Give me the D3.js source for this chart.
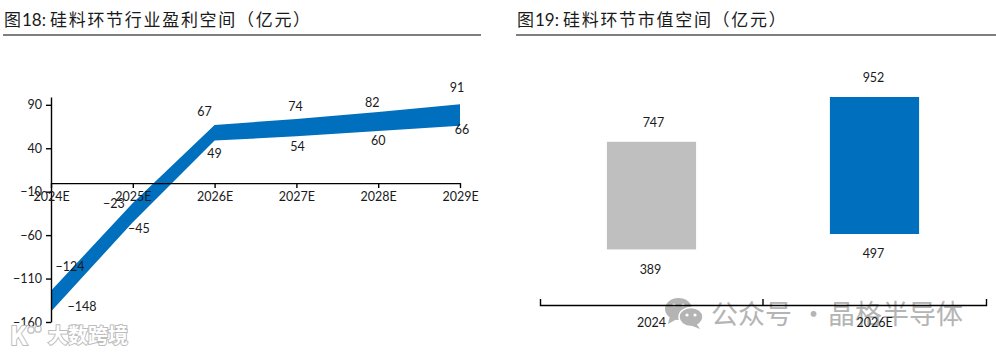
<!DOCTYPE html>
<html>
<head>
<meta charset="utf-8">
<script src="https://cdn.jsdelivr.net/npm/d3@7"></script>
<style>
	html, body { margin: 0; padding: 0; background: #fff; }
	svg { display: block; }
	text { font-family: "Noto Sans CJK SC", "Noto Sans", sans-serif; fill: #1a1a1a; }
	.axis text, .val { font-family: Lato, "Noto Sans", sans-serif; font-size: 12.5px; }
	.title { font-size: 17px; letter-spacing: 1.7px; }
	.axis path, .axis line { stroke: #000; stroke-width: 1.4px; }
</style>
</head>
<body>
<svg id="chart" width="996" height="354"></svg>
<script>
// fig 18
var years = ['2024E', '2025E', '2026E', '2027E', '2028E', '2029E']
var profitHigh = [-124, -23, 67, 74, 82, 91]
var profitLow = [-148, -45, 49, 54, 60, 66]
var yTicks = [90, 40, -10, -60, -110, -160]

// fig 19
var capYears = ['2024', '2026E']
var capHigh = [747, 952]
var capLow = [389, 497]
var capColors = ['#bfbfbf', '#006fbe']

// label nudges, px from the point on the band edge
var highOffsets = [[19, -24], [-19, 1], [-10, -13], [-1, -12], [-6, -9], [-3, -17]]
var lowOffsets = [[31, -5], [6, 6], [0, 13], [1, 10], [0, 10], [2, 4]]

var svg = d3.select('#chart')

function addTitle(num, text, x) {
	var t = svg.append('text').attr('class', 'title').attr('y', 26)
	t.append('tspan').attr('x', x).text('图')
	t.append('tspan').attr('x', x + 18).style('letter-spacing', '0').style('font-family', 'Lato').text(num + ':')
	t.append('tspan').attr('x', x + 46).text(text)
}

function addRule(x1, x2) {
	svg.append('line').attr('x1', x1).attr('x2', x2).attr('y1', 35).attr('y2', 35)
		.attr('stroke', '#000').attr('stroke-width', 1.2)
}

addTitle('18', '硅料环节行业盈利空间（亿元）', 4)
addRule(3, 481)
addTitle('19', '硅料环节市值空间（亿元）', 517)
addRule(516, 996)

// WATERMARK (under the axis line)
var wm = svg.append('g')
var wmGrey = '#b4b4b4'
wm.append('ellipse').attr('cx', 678.5).attr('cy', 309).attr('rx', 13.5).attr('ry', 11).attr('fill', wmGrey)
wm.append('path').attr('d', 'M670 316L668 324L677 319Z').attr('fill', wmGrey)
wm.append('ellipse').attr('cx', 691).attr('cy', 317).attr('rx', 12).attr('ry', 9.5).attr('fill', wmGrey).attr('stroke', '#fff').attr('stroke-width', 1.5)
wm.append('path').attr('d', 'M696 323L700 329L690 325Z').attr('fill', wmGrey)
wm.selectAll('circle')
	.data([[674, 305], [683, 305], [687, 315], [695, 315]])
	.enter()
	.append('circle')
		.attr('cx', d => d[0]).attr('cy', d => d[1]).attr('r', 1.6).attr('fill', '#fff')
wm.append('text').attr('x', 711).attr('y', 324).attr('font-size', 27).style('fill', wmGrey).text('公众号')
wm.append('text').attr('x', 800).attr('y', 324).attr('font-size', 27).style('fill', wmGrey).text('·')
wm.append('text').attr('x', 828).attr('y', 324).attr('font-size', 27).style('fill', wmGrey).text('晶格半导体')

// LEFT CHART
var x = d3.scalePoint().domain(years).range([51, 460])
var y = d3.scaleLinear().domain([-160, 90]).range([322, 105])

var band = years.map((d, i) => ({year: d, high: profitHigh[i], low: profitLow[i]}))

var area = d3.area()
	.x(d => x(d.year))
	.y0(d => y(d.low))
	.y1(d => y(d.high))

svg.append('path')
	.datum(band)
	.attr('fill', '#006fbe')
	.attr('d', area)

svg.append('g')
	.attr('class', 'axis')
	.attr('transform', 'translate(51,0)')
	.call(d3.axisLeft(y.copy().domain([-160, 99]).range([322, 97])).tickValues(yTicks).tickSize(5).tickSizeOuter(0).tickPadding(4))

svg.append('g')
	.attr('class', 'axis')
	.attr('transform', 'translate(0,' + y(0) + ')')
	.call(d3.axisBottom(x).tickSize(5).tickSizeOuter(0).tickPadding(4))

svg.selectAll('.hi')
	.data(band)
	.enter()
	.append('text')
		.attr('class', 'val')
		.attr('text-anchor', 'middle')
		.attr('dy', '0.35em')
		.attr('x', (d, i) => x(d.year) + highOffsets[i][0])
		.attr('y', (d, i) => y(d.high) + highOffsets[i][1])
		.text(d => d3.format('d')(d.high))

svg.selectAll('.lo')
	.data(band)
	.enter()
	.append('text')
		.attr('class', 'val')
		.attr('text-anchor', 'middle')
		.attr('dy', '0.35em')
		.attr('x', (d, i) => x(d.year) + lowOffsets[i][0])
		.attr('y', (d, i) => y(d.low) + lowOffsets[i][1])
		.text(d => d3.format('d')(d.low))

// RIGHT CHART
// the source bars do not share one scale: tops and bottoms each sit on their own ratio to the baseline
var base = 305
var xCap = d3.scaleBand().domain(capYears).range([540, 986])
var yTop = d3.scaleLinear().domain([0, 952]).range([base, 97])
var yBottom = d3.scaleLinear().domain([0, 497]).range([base, 234])
var barW = xCap.bandwidth() * 0.4

var caps = capYears.map((d, i) => ({year: d, high: capHigh[i], low: capLow[i], color: capColors[i]}))

svg.selectAll('.capBar')
	.data(caps)
	.enter()
	.append('rect')
		.attr('x', d => xCap(d.year) + xCap.bandwidth() / 2 - barW / 2)
		.attr('y', d => yTop(d.high))
		.attr('width', barW)
		.attr('height', d => yBottom(d.low) - yTop(d.high))
		.attr('fill', d => d.color)

svg.selectAll('.capHi')
	.data(caps)
	.enter()
	.append('text')
		.attr('class', 'val')
		.attr('text-anchor', 'middle')
		.attr('dy', '0.35em')
		.attr('x', (d, i) => xCap(d.year) + xCap.bandwidth() / 2 + [2, -1][i])
		.attr('y', d => yTop(d.high) - 19)
		.text(d => d.high)

svg.selectAll('.capLo')
	.data(caps)
	.enter()
	.append('text')
		.attr('class', 'val')
		.attr('text-anchor', 'middle')
		.attr('dy', '0.35em')
		.attr('x', d => xCap(d.year) + xCap.bandwidth() / 2 - 1)
		.attr('y', d => yBottom(d.low) + 20)
		.text(d => d.low)

var capAxis = svg.append('g')
	.attr('class', 'axis')
	.attr('transform', 'translate(0,' + base + ')')
	.call(d3.axisBottom(xCap).tickSize(0).tickSizeOuter(-6).tickPadding(13))

capAxis.append('line')
	.attr('x1', xCap('2026E')).attr('x2', xCap('2026E'))
	.attr('y1', 0).attr('y2', -6)

// corner logo watermark, sits on top like the source
var logo = svg.append('g')
	.style('paint-order', 'stroke')
logo.append('text').attr('x', 48).attr('y', 343).attr('font-size', 20).attr('font-weight', 700)
	.style('fill', '#fff').style('stroke', '#bdbdbd').style('stroke-width', 2).text('大数跨境')
logo.append('text').attr('x', 10).attr('y', 345).attr('font-size', 25).attr('font-weight', 700)
	.style('fill', '#fff').style('stroke', '#bdbdbd').style('stroke-width', 2).text('K')
logo.selectAll('circle')
	.data([[31, 330], [38, 329]])
	.enter()
	.append('circle')
		.attr('cx', d => d[0]).attr('cy', d => d[1]).attr('r', 3.2)
		.attr('fill', 'none').attr('stroke', '#c8c8c8').attr('stroke-width', 1.4)
</script>
</body>
</html>
